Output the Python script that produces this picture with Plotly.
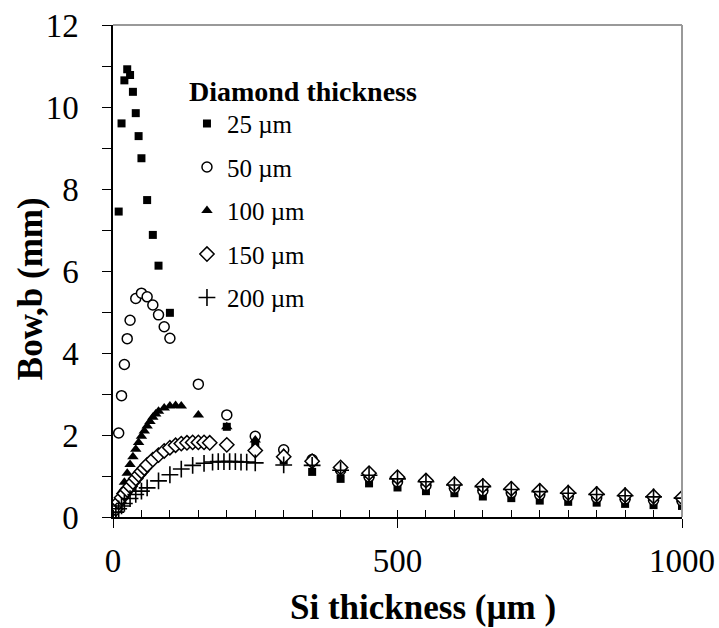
import plotly.graph_objects as go

# ---- data (Si thickness in µm, bow in mm) ----
x_25 = [10, 15, 20, 25, 30, 35, 40, 45, 50, 60, 70, 80, 100,
        200, 250, 300, 350, 400, 450, 500, 550, 600, 650, 700, 750, 800, 850, 900, 950, 1000]
y_25 = [7.45, 9.60, 10.65, 10.92, 10.78, 10.37, 9.85, 9.29, 8.75, 7.73, 6.88, 6.13, 4.98,
        2.20, 1.80, 1.38, 1.10, 0.93, 0.82, 0.72, 0.63, 0.58, 0.50, 0.46, 0.40, 0.37, 0.35, 0.32, 0.29, 0.27]

x_50 = [10, 15, 20, 25, 30, 40, 50, 60, 70, 80, 90, 100,
        150, 200, 250, 300, 350, 400, 450, 500, 550, 600, 650, 700, 750, 800, 850, 900, 950, 1000]
y_50 = [2.05, 2.96, 3.72, 4.35, 4.80, 5.33, 5.46, 5.37, 5.17, 4.93, 4.64, 4.36,
        3.24, 2.49, 1.97, 1.64, 1.40, 1.14, 0.98, 0.86, 0.77, 0.70, 0.64, 0.59, 0.54, 0.50, 0.47, 0.44, 0.41, 0.39]

x_100 = [5, 10, 15, 20, 25, 30, 35, 40, 45, 50, 55, 60, 65, 70, 75, 80, 90, 100, 110, 120,
         150, 200, 250, 300, 350, 400, 450, 500, 550, 600, 650, 700, 750, 800, 850, 900, 950, 1000]
y_100 = [0.20, 0.40, 0.62, 0.85, 1.07, 1.28, 1.47, 1.65, 1.82, 1.97, 2.10, 2.22, 2.33, 2.43, 2.51, 2.58,
         2.66, 2.71, 2.72, 2.71,
         2.49, 2.20, 1.88, 1.56, 1.33, 1.15, 1.02, 0.91, 0.83, 0.75, 0.70, 0.64, 0.59, 0.55, 0.52, 0.48, 0.46, 0.43]

x_150 = [5, 10, 15, 20, 25, 30, 35, 40, 45, 50, 55, 60, 70, 80, 90, 100, 110, 120, 130, 140, 150, 160, 170,
         200, 250, 300, 350, 400, 450, 500, 550, 600, 650, 700, 750, 800, 850, 900, 950, 1000]
y_150 = [0.20, 0.36, 0.47, 0.57, 0.66, 0.75, 0.85, 0.94, 1.03, 1.11, 1.19, 1.27, 1.40, 1.51, 1.61, 1.69,
         1.75, 1.79, 1.81, 1.82, 1.82, 1.82, 1.81,
         1.76, 1.62, 1.47, 1.36, 1.21, 1.07, 0.97, 0.89, 0.80, 0.76, 0.69, 0.64, 0.59, 0.56, 0.53, 0.50, 0.47]

x_200 = [5, 10, 15, 20, 30, 40, 50, 60, 80, 100, 120, 140, 160, 175, 185, 195, 205, 215, 225, 235,
         250, 300, 350, 400, 450, 500, 550, 600, 650, 700, 750, 800, 850, 900, 950, 1000]
y_200 = [0.12, 0.20, 0.27, 0.33, 0.45, 0.55, 0.63, 0.71, 0.88, 1.03, 1.17, 1.26, 1.31, 1.34, 1.35, 1.35,
         1.35, 1.35, 1.34, 1.34,
         1.32, 1.27, 1.26, 1.14, 1.02, 0.93, 0.86, 0.78, 0.74, 0.67, 0.62, 0.58, 0.55, 0.52, 0.49, 0.46]

series_names = ["25 µm", "50 µm", "100 µm", "150 µm", "200 µm"]
legend_title = "Diamond thickness"
x_title = "Si thickness (µm )"
y_title = "Bow,b (mm)"

FONT = "Liberation Serif, Times New Roman, serif"

fig = go.Figure()
marker_styles = [
    dict(symbol="square", size=8, color="black"),
    dict(symbol="circle", size=10, color="white", line=dict(color="black", width=1.5)),
    dict(symbol="triangle-up", size=10, color="black"),
    dict(symbol="diamond", size=11, color="white", line=dict(color="black", width=1.5)),
    dict(symbol="cross-thin", size=12, color="black", line=dict(color="black", width=1.6)),
]
xs = [x_25, x_50, x_100, x_150, x_200]
ys = [y_25, y_50, y_100, y_150, y_200]
for i, (xv, yv, nm, mk) in enumerate(zip(xs, ys, series_names, marker_styles)):
    fig.add_trace(go.Scatter(x=xv, y=yv, mode="markers", name=nm, marker=mk,
                             legendgroup=str(i)))

fig.update_layout(
    width=719, height=628,
    margin=dict(l=113, r=37, t=25, b=111, autoexpand=False),
    plot_bgcolor="white", paper_bgcolor="white",
    font=dict(family=FONT, color="black", size=24),
    showlegend=True,
    legend=dict(
        x=0.13, y=0.92, xanchor="left", yanchor="top",
        bgcolor="rgba(0,0,0,0)",
        title=dict(text="<b>" + legend_title + "</b>", font=dict(size=28, family=FONT)),
        font=dict(size=25, family=FONT),
        tracegroupgap=8,
        itemwidth=30,
    ),
    xaxis=dict(
        range=[0, 1000], dtick=500, tick0=0,
        showline=True, linecolor="black", linewidth=1.5,
        ticks="outside", ticklen=9, tickwidth=1, tickcolor="black",
        minor=dict(dtick=50, ticks="inside", ticklen=7, tickwidth=1, tickcolor="black"),
        showgrid=False, zeroline=False,
        tickfont=dict(size=33, family=FONT),
        ticklabelstandoff=5,
    ),
    yaxis=dict(
        range=[0, 12], dtick=2, tick0=0,
        showline=True, linecolor="black", linewidth=1.5,
        ticks="outside", ticklen=9, tickwidth=1, tickcolor="black",
        minor=dict(dtick=1, ticks="outside", ticklen=9, tickwidth=1, tickcolor="black"),
        showgrid=False, zeroline=False,
        tickfont=dict(size=33, family=FONT),
        ticklabelstandoff=17,
    ),
    annotations=[
        dict(text="<b>" + x_title + "</b>", xref="paper", yref="paper",
             x=0.545, y=-0.183, xanchor="center", yanchor="middle", showarrow=False,
             font=dict(size=35, family=FONT)),
        dict(text="<b>" + y_title + "</b>", xref="paper", yref="paper",
             x=-0.146, y=0.465, xanchor="center", yanchor="middle", showarrow=False,
             textangle=-90, font=dict(size=35, family=FONT)),
    ],
    shapes=[
        dict(type="line", xref="paper", yref="paper", x0=0, x1=1, y0=1, y1=1,
             line=dict(color="#999999", width=2)),
        dict(type="line", xref="paper", yref="paper", x0=1, x1=1, y0=0, y1=1,
             line=dict(color="#999999", width=2)),
    ],
)

fig.write_html("out.html")
